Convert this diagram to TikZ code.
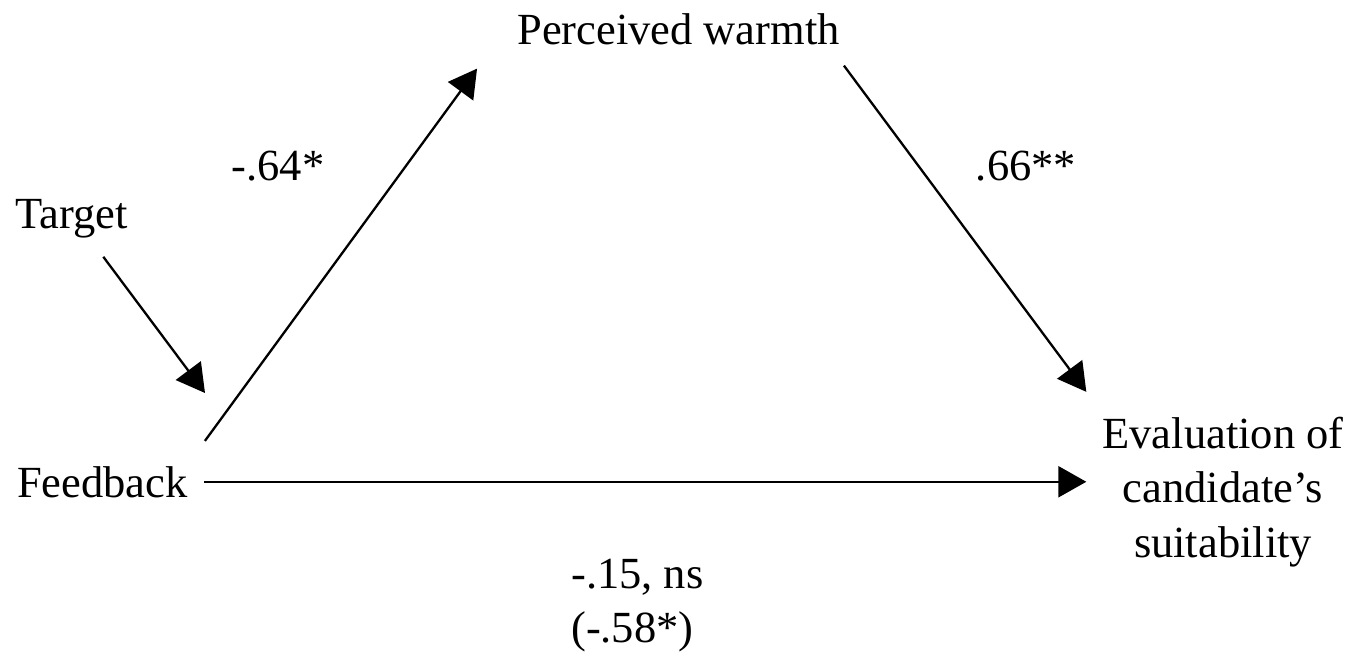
\documentclass[tikz,border=0pt]{standalone}
\usepackage{fontspec}
\setmainfont{Liberation Serif}
\usetikzlibrary{arrows.meta, positioning}

\begin{document}
\begin{tikzpicture}[x=1pt, y=-1pt, >={Triangle[length=28pt, width=31pt]},
    txt/.style={inner sep=0pt, font=\fontsize{44.5pt}{54.5pt}\selectfont},
    conn/.style={->, line width=2.3pt}]
    \useasboundingbox (0,0) rectangle (1368,658);

    % Các biến
    \node[txt, anchor=base] (warmth) at (678.5,45) {Perceived warmth};
    \node[txt, anchor=base west] (target) at (15,228) {Target};
    \node[txt, anchor=base west] (feedback) at (17,497) {Feedback};
    \node[txt, align=center] (eval) at (1223,492)
        {Evaluation of\\ candidate's\\ suitability};
    \coordinate (modpt) at (205,393);

    % Các đường dẫn
    \draw[conn] ([xshift=32pt, yshift=-19pt]target.south) -- (modpt);
    \draw[conn] ([xshift=17pt, yshift=25pt]feedback.north east)
        -- ([xshift=-40pt, yshift=-23pt]warmth.south west);
    \draw[conn] ([xshift=4pt, yshift=-20pt]warmth.south east)
        -- ([xshift=-16pt, yshift=25pt]eval.north west);
    \draw[conn, shorten <=16pt, shorten >=16pt] (feedback.east) -- (feedback.east -| eval.west);

    % Hệ số
    \node[txt, anchor=base] (lbla) at (278,180) {-.64*};
    \node[txt, anchor=base] (lblb) at (1026,180) {.66**};
    \node[txt, align=left, anchor=west] (lblc) at (571,605.5) {-.15, ns\\ (-.58*)};
\end{tikzpicture}
\end{document}
